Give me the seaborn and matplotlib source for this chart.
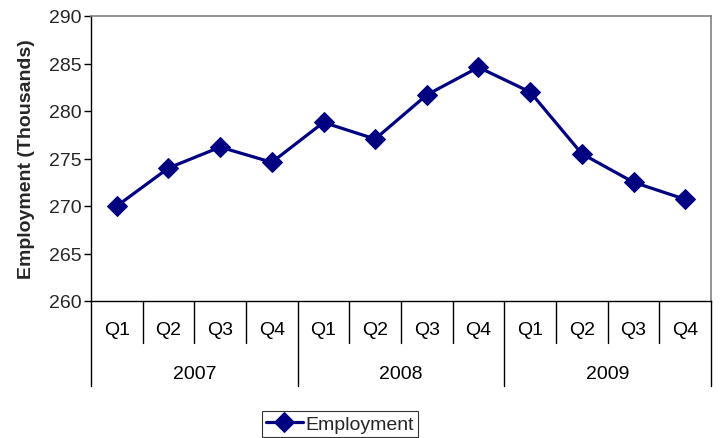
import matplotlib
matplotlib.use("Agg")
import matplotlib.pyplot as plt
import seaborn as sns
import pandas as pd

# Quarterly employment, thousands
years = ["2007", "2008", "2009"]
quarters = ["Q1", "Q2", "Q3", "Q4"]
employment = [270.0, 274.0, 276.2, 274.6,
              278.8, 277.05, 281.7, 284.6,
              282.0, 275.5, 272.5, 270.7]
y_ticks = [260, 265, 270, 275, 280, 285, 290]

sns.set_theme(style="white")
plt.rcParams["font.family"] = ["Liberation Sans", "DejaVu Sans"]

df = pd.DataFrame({
    "pos": range(len(employment)),
    "Employment": employment,
})

fig = plt.figure(figsize=(7.22, 4.39), dpi=100)
ax = fig.add_axes([91 / 722, 1 - 302 / 439, 620 / 722, 285 / 439])

navy = "#000080"
sns.lineplot(data=df, x="pos", y="Employment", ax=ax, color=navy,
             marker="D", markersize=10, markeredgecolor=navy,
             linewidth=2.3, label="Employment", legend=False)

ax.set_xlim(-0.5, len(employment) - 0.5)
ax.set_ylim(y_ticks[0], y_ticks[-1])
ax.set_yticks(y_ticks)
ax.tick_params(axis="y", labelsize=14, direction="out", length=5,
               width=1, color="black", left=True, pad=2)
ax.set_xticks([])
ax.set_xlabel("")
ax.set_ylabel("Employment (Thousands)", fontsize=14, fontweight="bold",
              labelpad=10)

for side in ["left", "bottom"]:
    ax.spines[side].set_color("black")
    ax.spines[side].set_linewidth(1.0)
for side in ["top", "right"]:
    ax.spines[side].set_color("#808080")
    ax.spines[side].set_linewidth(1.2)

# Two-level category axis: quarter cells under year groups
trans = ax.get_xaxis_transform()
n = len(employment)
q_depth = -42 / 285
y_depth = -85 / 285
for i in range(n + 1):
    edge = i - 0.5
    is_year_edge = i % len(quarters) == 0
    ax.plot([edge, edge], [0, y_depth if is_year_edge else q_depth],
            transform=trans, color="black", linewidth=1.0, clip_on=False)
for i in range(n):
    ax.text(i, -29 / 285, quarters[i % len(quarters)], transform=trans,
            ha="center", va="center", fontsize=14, color="black")
for k, yr in enumerate(years):
    center = k * len(quarters) + (len(quarters) - 1) / 2
    ax.text(center, -73 / 285, yr, transform=trans,
            ha="center", va="center", fontsize=14, color="black")

leg = fig.legend(handles=ax.get_lines()[:1], labels=["Employment"],
                 loc="center", bbox_to_anchor=(340 / 722, 1 - 425 / 439),
                 fontsize=14, frameon=True, fancybox=False,
                 handlelength=1.9, handletextpad=0.15, borderpad=0.2,
                 borderaxespad=0)
leg.get_frame().set_edgecolor("black")
leg.get_frame().set_linewidth(0.8)

fig.savefig("out.png", dpi=100)
